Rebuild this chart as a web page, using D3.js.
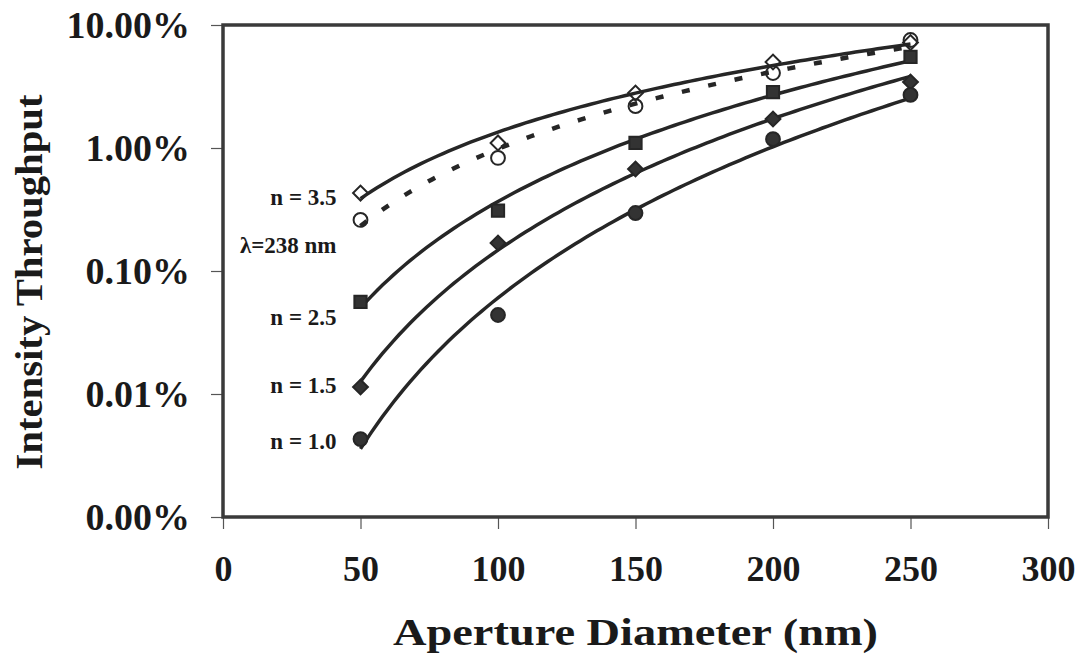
<!DOCTYPE html>
<html>
<head>
<meta charset="utf-8">
<script src="https://cdn.jsdelivr.net/npm/d3@7"></script>
<style>
  body { margin: 0; background: #fff; }
  text { font-family: "Times New Roman", Times, "Liberation Serif", "Nimbus Roman", serif; font-weight: bold; fill: #1a1a1a; }
</style>
</head>
<body>
<div id="chart"></div>
<script>
// aperture diameters (nm) and throughput values (percent)
const diameters = [50, 100, 150, 200, 250];
const n35 = [0.43, 1.10, 2.80, 5.0, 7.2];
const lam238 = [0.26, 0.83, 2.19, 4.07, 7.55];
const n25 = [0.056, 0.31, 1.10, 2.85, 5.5];
const n15 = [0.0114, 0.169, 0.675, 1.72, 3.44];
const n10 = [0.0043, 0.0439, 0.296, 1.18, 2.7];

const xTicks = [0, 50, 100, 150, 200, 250, 300];
const yTicks = [0.00001, 0.0001, 0.001, 0.01, 0.1];

const series = [
  { name: "n = 3.5", values: n35, symbol: "diamond", filled: false, dashed: false, dy: 12 },
  { name: "λ=238 nm", values: lam238, symbol: "circle", filled: false, dashed: true, dy: 33 },
  { name: "n = 2.5", values: n25, symbol: "square", filled: true, dashed: false, dy: 23 },
  { name: "n = 1.5", values: n15, symbol: "diamond", filled: true, dashed: false, dy: 6 },
  { name: "n = 1.0", values: n10, symbol: "circle", filled: true, dashed: false, dy: 10 }
];

const W = 1086, H = 656;
const margin = { top: 25, right: 38, bottom: 139, left: 223 };
const width = W - margin.left - margin.right;
const height = H - margin.top - margin.bottom;
const ink = "#262626";

const svg = d3.select("#chart").append("svg")
  .attr("width", W).attr("height", H);
const g = svg.append("g")
  .attr("transform", `translate(${margin.left},${margin.top})`);

const x = d3.scaleLinear().domain([0, 300]).range([0, width]);
const y = d3.scaleLog().domain([0.00001, 0.1]).range([height, 0]);

// axes (ticks outside, labels big bold serif)
const xAxis = g.append("g")
  .attr("transform", `translate(0,${height})`)
  .call(d3.axisBottom(x).tickValues(xTicks).tickSize(12).tickPadding(26).tickFormat(d3.format("d")));
xAxis.selectAll("text").attr("font-size", 36).attr("fill", ink);

const yAxis = g.append("g")
  .call(d3.axisLeft(y).tickValues(yTicks).tickSize(12).tickPadding(21).tickFormat(d3.format(".2%")));
yAxis.selectAll("text").attr("font-size", 38).attr("fill", ink);

[xAxis, yAxis].forEach(a => {
  a.attr("font-family", null);
  a.select(".domain").remove();
  a.selectAll("line").attr("stroke", "#555").attr("stroke-width", 1.2);
});

// frame
g.append("rect")
  .attr("x", 0).attr("y", 0).attr("width", width).attr("height", height)
  .attr("fill", "none").attr("stroke", "#3a3a3a").attr("stroke-width", 3.5);

// power-law trendline from the points (like the spreadsheet fit)
function powerFit(xs, ys) {
  const lx = xs.map(Math.log), ly = ys.map(Math.log);
  const mx = d3.mean(lx), my = d3.mean(ly);
  const b = d3.sum(lx, (v, i) => (v - mx) * (ly[i] - my)) / d3.sum(lx, v => (v - mx) * (v - mx));
  const a = Math.exp(my - b * mx);
  return t => a * Math.pow(t, b);
}

const line = d3.line().x(d => x(d[0])).y(d => y(d[1]));
const symbolGen = {
  diamond: d3.symbol().type(d3.symbolSquare).size(110),
  square: d3.symbol().type(d3.symbolSquare).size(150),
  circle: d3.symbol().type(d3.symbolCircle).size(150)
};

series.forEach(s => {
  const pts = diameters.map((d, i) => [d, s.values[i] / 100]);
  const fit = powerFit(diameters, pts.map(p => p[1]));
  const curve = d3.range(50, 250.5, 2).map(t => [t, fit(t)]);

  g.append("path")
    .datum(curve)
    .attr("d", line)
    .attr("fill", "none")
    .attr("stroke", ink)
    .attr("stroke-width", s.dashed ? 4.5 : 3.5)
    .attr("stroke-dasharray", s.dashed ? "8,19" : null);

  g.selectAll(null)
    .data(pts)
    .enter()
    .append("path")
    .attr("d", symbolGen[s.symbol])
    .attr("transform", d => `translate(${x(d[0])},${y(d[1])})` + (s.symbol === "diamond" ? " rotate(45)" : ""))
    .attr("fill", s.filled ? "#333" : "none")
    .attr("stroke", ink)
    .attr("stroke-width", 2);

  g.append("text")
    .attr("x", x(diameters[0]) - 24)
    .attr("y", y(pts[0][1]) + s.dy)
    .attr("text-anchor", "end")
    .attr("font-size", 23)
    .text(s.name);
});

// axis titles
svg.append("text")
  .attr("x", margin.left + width / 2)
  .attr("y", 645)
  .attr("text-anchor", "middle")
  .attr("font-size", 38)
  .attr("textLength", 485)
  .attr("lengthAdjust", "spacingAndGlyphs")
  .text("Aperture Diameter (nm)");

svg.append("text")
  .attr("transform", "translate(42,282) rotate(-90)")
  .attr("text-anchor", "middle")
  .attr("font-size", 38)
  .attr("textLength", 375)
  .attr("lengthAdjust", "spacingAndGlyphs")
  .text("Intensity Throughput");
</script>
</body>
</html>
